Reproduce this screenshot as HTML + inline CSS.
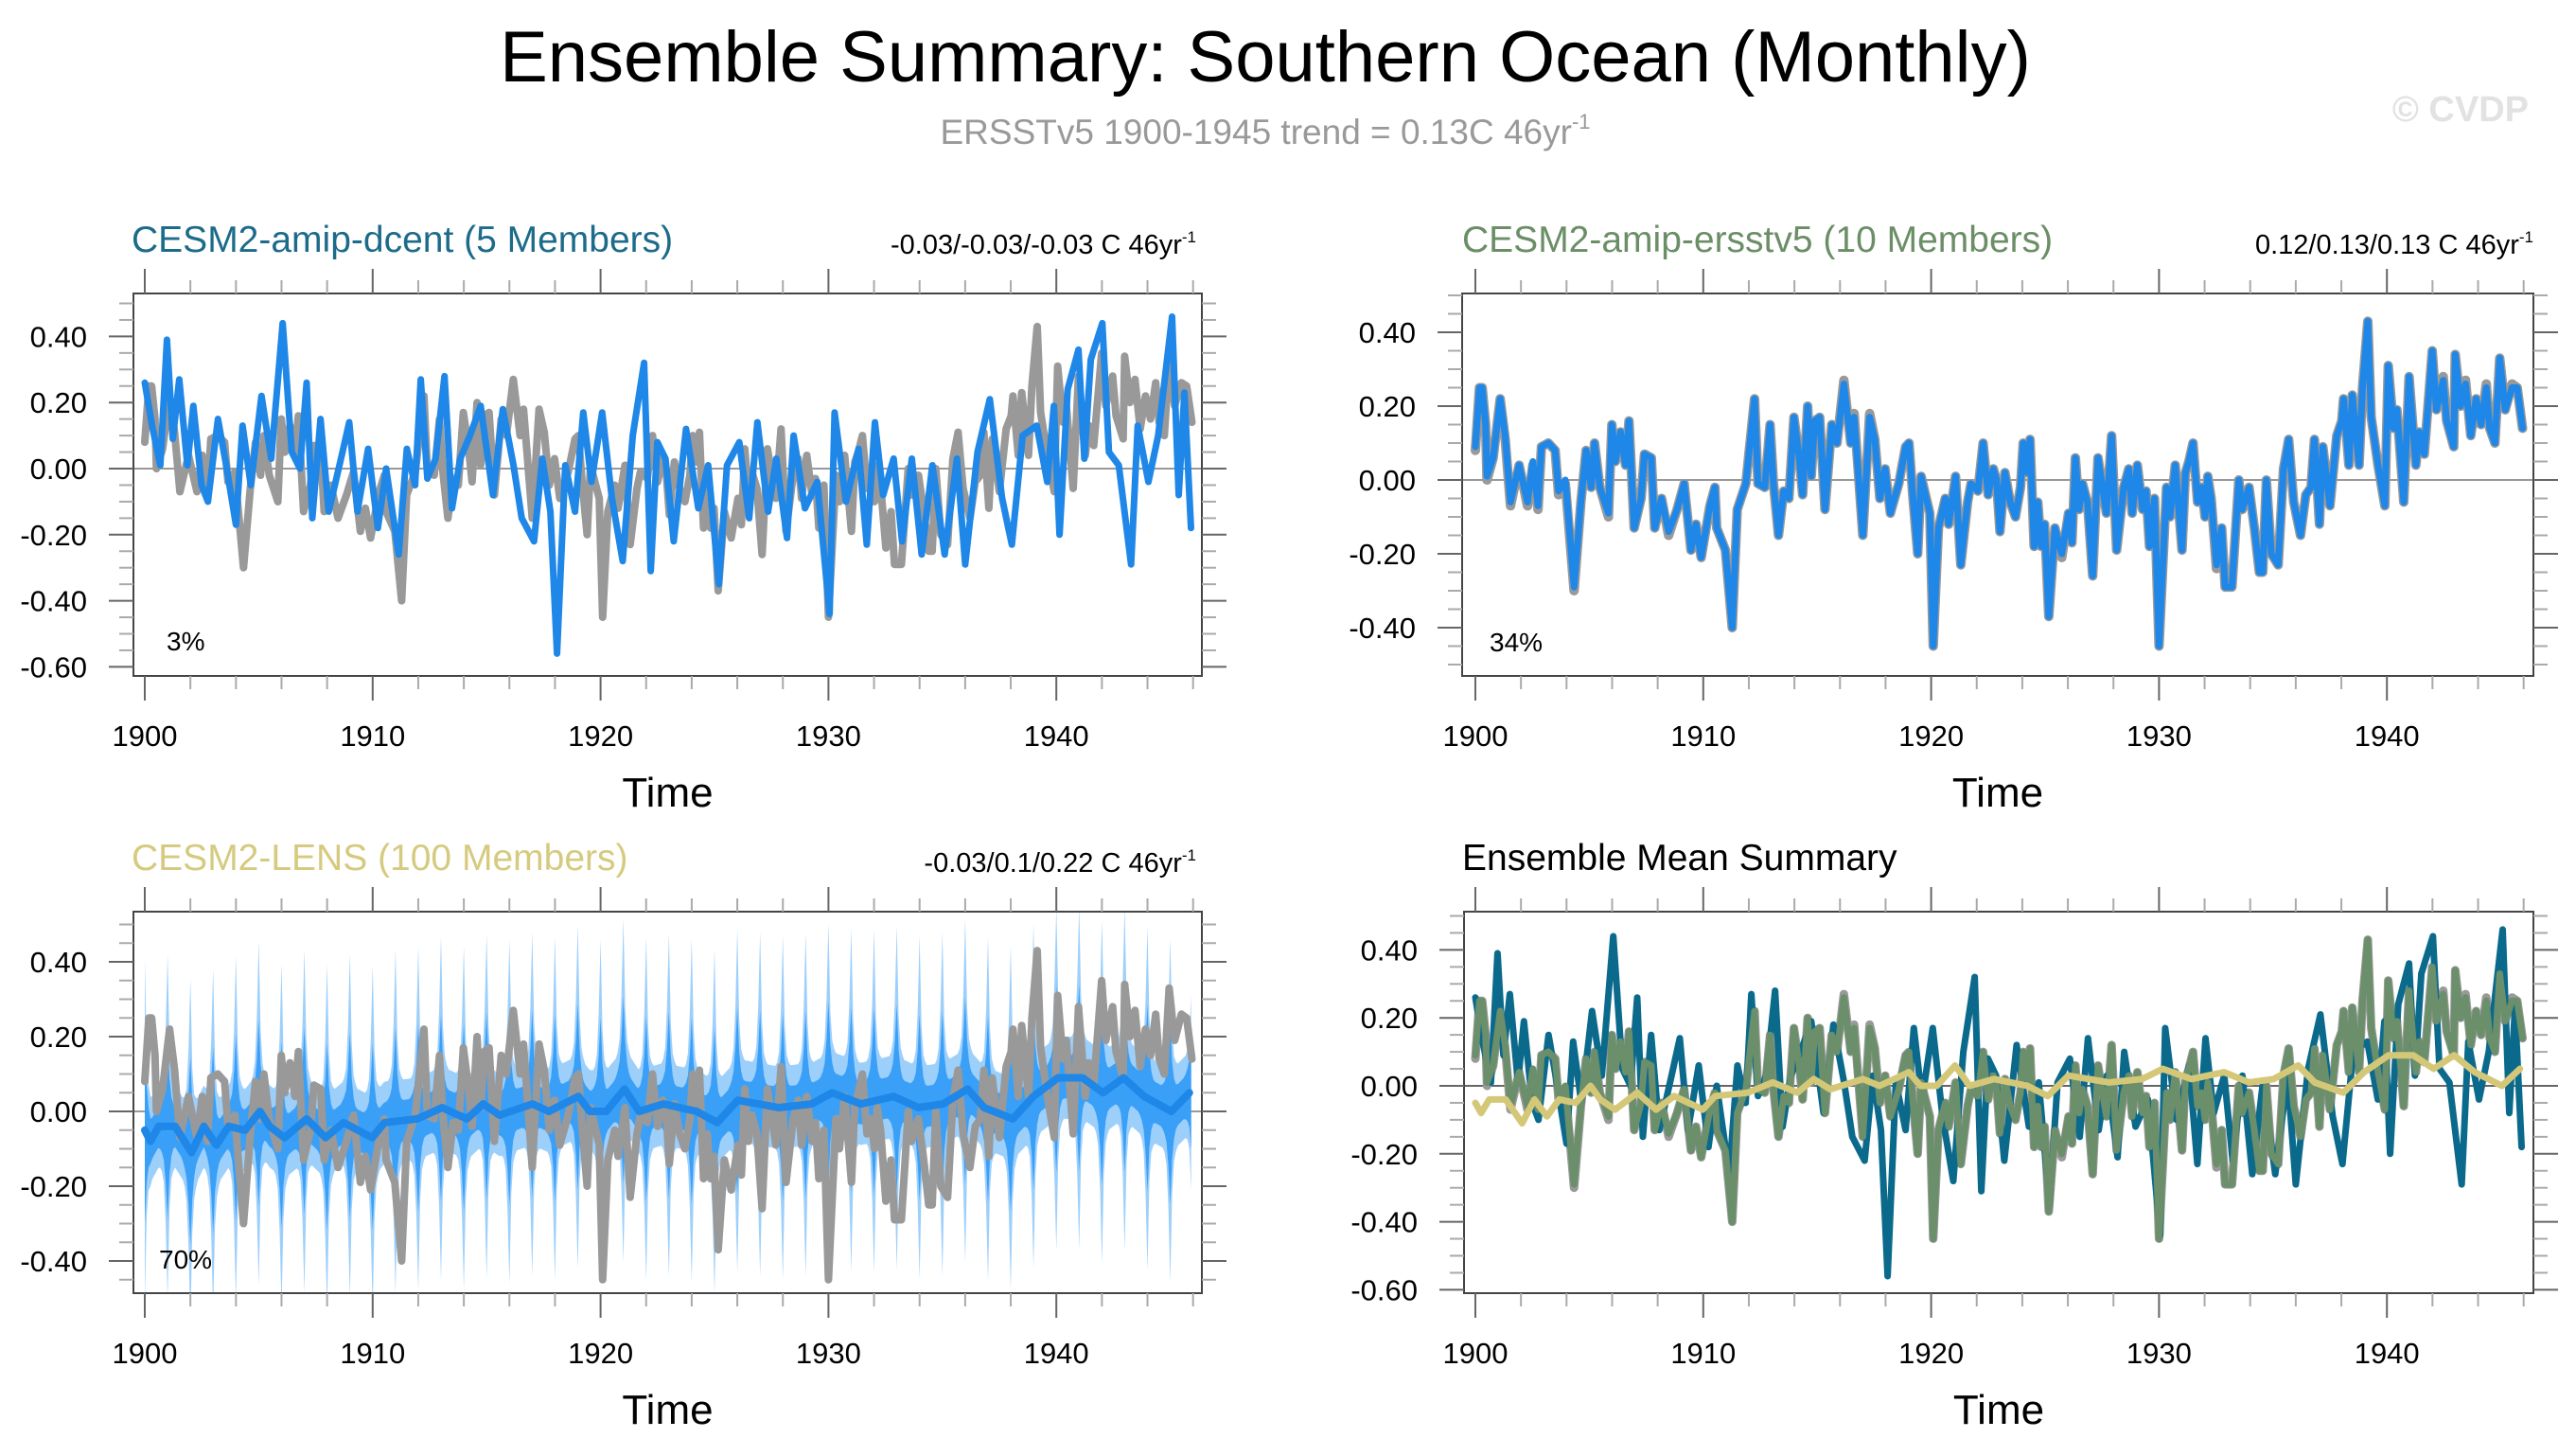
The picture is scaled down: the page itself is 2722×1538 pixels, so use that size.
<!DOCTYPE html>
<html><head><meta charset="utf-8"><style>
html,body{margin:0;padding:0;background:#fff;}
svg{display:block;font-family:"Liberation Sans",Arial,sans-serif;}
</style></head><body>
<svg id="chart" width="2722" height="1538" viewBox="0 0 2722 1538">
<text x="1337" y="86" font-size="76" text-anchor="middle" fill="#000">Ensemble Summary: Southern Ocean (Monthly)</text>
<text x="1337" y="152" font-size="37" text-anchor="middle" fill="#999">ERSSTv5 1900-1945 trend = 0.13C 46yr<tspan font-size="22" dy="-16">-1</tspan></text>
<text x="2672" y="128" font-size="38" font-weight="bold" text-anchor="end" fill="#e2e2e2">© CVDP</text>

<text x="139" y="266" font-size="39" fill="#1C6B8A">CESM2-amip-dcent (5 Members)</text>
<text x="1264" y="268" font-size="29" text-anchor="end" fill="#000">-0.03/-0.03/-0.03 C 46yr<tspan font-size="17" dy="-12">-1</tspan></text>
<text x="1545" y="266" font-size="39" fill="#6B8E67">CESM2-amip-ersstv5 (10 Members)</text>
<text x="2677" y="268" font-size="29" text-anchor="end" fill="#000">0.12/0.13/0.13 C 46yr<tspan font-size="17" dy="-12">-1</tspan></text>
<text x="139" y="919" font-size="39" fill="#D6CA7F">CESM2-LENS (100 Members)</text>
<text x="1264" y="921" font-size="29" text-anchor="end" fill="#000">-0.03/0.1/0.22 C 46yr<tspan font-size="17" dy="-12">-1</tspan></text>
<text x="1545" y="919" font-size="39" fill="#000">Ensemble Mean Summary</text>
<g id="plots"></g>
</svg>
<script>
const obsYears=[1900.00,1900.18,1900.30,1900.45,1900.51,1900.78,1901.09,1901.31,1901.54,1901.92,1902.29,1902.52,1902.75,1902.90,1903.20,1903.50,1903.65,1903.95,1904.33,1904.63,1904.86,1905.08,1905.23,1905.46,1905.84,1905.99,1906.14,1906.37,1906.59,1906.74,1906.97,1907.27,1907.42,1907.72,1907.87,1908.17,1908.48,1908.85,1909.16,1909.46,1909.68,1909.91,1910.29,1910.51,1910.59,1910.97,1911.27,1911.49,1911.87,1912.25,1912.40,1912.70,1912.93,1913.08,1913.30,1913.53,1913.76,1913.98,1914.21,1914.36,1914.58,1914.74,1914.89,1915.11,1915.34,1915.64,1915.87,1916.17,1916.47,1916.62,1917.00,1917.30,1917.53,1917.75,1917.98,1918.21,1918.58,1918.88,1919.03,1919.19,1919.41,1919.56,1919.79,1919.94,1920.09,1920.32,1920.62,1920.77,1921.07,1921.30,1921.60,1921.75,1922.05,1922.28,1922.50,1922.73,1922.87,1923.02,1923.24,1923.47,1923.70,1923.92,1924.04,1924.22,1924.34,1924.52,1924.68,1924.83,1924.98,1925.16,1925.43,1925.73,1926.03,1926.18,1926.33,1926.49,1926.64,1926.86,1927.09,1927.32,1927.69,1927.92,1928.14,1928.45,1928.67,1928.82,1929.05,1929.28,1929.43,1929.58,1929.80,1930.00,1930.33,1930.48,1930.71,1931.01,1931.16,1931.31,1931.49,1931.69,1931.87,1932.02,1932.14,1932.29,1932.52,1932.75,1932.90,1933.20,1933.50,1933.65,1933.95,1934.18,1934.40,1934.55,1934.71,1934.93,1935.23,1935.46,1935.69,1935.91,1936.21,1936.44,1936.67,1936.82,1937.04,1937.19,1937.50,1937.80,1938.02,1938.10,1938.33,1938.48,1938.78,1938.93,1939.16,1939.31,1939.61,1939.91,1940.06,1940.29,1940.44,1940.74,1940.97,1941.27,1941.42,1941.64,1941.99,1942.17,1942.47,1942.62,1942.93,1943.00,1943.23,1943.45,1943.68,1943.91,1944.13,1944.36,1944.51,1944.74,1944.95,1945.19,1945.49,1945.72,1945.95];
const obsVals=[0.08,0.25,0.25,0.15,0.00,0.06,0.22,0.11,-0.07,0.04,-0.07,0.04,-0.08,0.09,0.10,0.08,-0.04,-0.01,-0.30,-0.06,0.08,-0.02,0.10,-0.02,-0.10,0.15,0.05,0.13,0.04,0.16,-0.13,-0.05,0.07,0.06,-0.13,-0.05,-0.15,-0.08,-0.01,-0.19,-0.12,-0.21,-0.07,-0.02,-0.13,-0.19,-0.40,-0.08,-0.01,0.22,-0.01,-0.02,0.15,-0.01,-0.15,-0.03,-0.05,0.17,0.06,-0.04,0.20,0.01,0.16,0.17,-0.08,0.15,0.10,0.27,0.10,0.18,-0.15,0.18,0.11,-0.05,0.03,-0.09,-0.01,0.09,0.10,-0.04,-0.20,0.01,-0.05,-0.09,-0.45,-0.13,-0.05,-0.12,0.01,-0.23,-0.06,-0.01,-0.03,0.10,-0.04,0.03,0.00,-0.14,0.02,-0.06,-0.10,-0.02,0.10,0.02,0.11,-0.18,-0.06,-0.18,-0.12,-0.37,-0.13,-0.21,-0.09,-0.17,0.06,-0.08,-0.01,-0.06,-0.26,0.06,-0.09,0.12,-0.19,-0.02,0.03,-0.09,0.04,-0.08,-0.03,-0.18,-0.05,-0.45,-0.02,-0.10,0.04,-0.19,0.02,0.05,0.10,-0.06,-0.02,-0.10,0.01,-0.05,-0.24,-0.13,-0.29,-0.29,0.00,-0.08,-0.02,-0.13,-0.25,-0.25,0.00,-0.20,-0.23,0.03,0.11,-0.06,-0.15,-0.04,-0.02,0.11,-0.12,0.09,-0.07,0.12,0.16,0.22,0.04,0.23,0.04,0.25,0.43,0.17,0.04,-0.07,0.31,0.14,0.19,-0.06,0.28,0.04,0.13,0.07,0.35,0.19,0.28,0.16,0.09,0.34,0.20,0.27,0.12,0.22,0.15,0.26,0.14,0.10,0.33,0.19,0.26,0.25,0.14];
const ersstYears=obsYears.slice();
const ersstVals=[0.09,0.25,0.25,0.15,0.01,0.06,0.22,0.12,-0.06,0.04,-0.06,0.05,-0.07,0.09,0.10,0.08,-0.03,0.00,-0.29,-0.06,0.08,-0.02,0.10,-0.02,-0.09,0.15,0.05,0.13,0.04,0.16,-0.13,-0.05,0.07,0.06,-0.13,-0.05,-0.14,-0.08,-0.01,-0.19,-0.12,-0.21,-0.07,-0.02,-0.13,-0.19,-0.40,-0.08,-0.01,0.22,-0.01,-0.02,0.15,-0.01,-0.15,-0.03,-0.05,0.17,0.06,-0.04,0.20,0.01,0.16,0.17,-0.08,0.15,0.10,0.26,0.10,0.17,-0.15,0.17,0.11,-0.05,0.03,-0.09,-0.01,0.09,0.10,-0.04,-0.20,0.01,-0.05,-0.09,-0.45,-0.13,-0.05,-0.12,0.01,-0.23,-0.06,-0.01,-0.03,0.10,-0.04,0.03,0.00,-0.14,0.02,-0.06,-0.10,-0.02,0.10,0.02,0.11,-0.18,-0.06,-0.18,-0.12,-0.37,-0.13,-0.20,-0.09,-0.17,0.06,-0.08,-0.01,-0.06,-0.26,0.06,-0.09,0.12,-0.19,-0.02,0.03,-0.09,0.04,-0.08,-0.03,-0.18,-0.05,-0.45,-0.02,-0.10,0.04,-0.19,0.02,0.05,0.10,-0.06,-0.02,-0.10,0.01,-0.05,-0.23,-0.13,-0.29,-0.29,0.00,-0.08,-0.02,-0.13,-0.25,-0.25,0.00,-0.20,-0.23,0.03,0.11,-0.06,-0.15,-0.04,-0.02,0.11,-0.12,0.09,-0.07,0.12,0.16,0.22,0.04,0.23,0.04,0.25,0.43,0.17,0.04,-0.07,0.31,0.14,0.19,-0.06,0.28,0.04,0.13,0.07,0.35,0.19,0.27,0.16,0.09,0.34,0.20,0.26,0.12,0.22,0.15,0.25,0.14,0.10,0.33,0.19,0.25,0.25,0.14];
const dcentYears=[1900.00,1900.32,1900.68,1900.97,1901.23,1901.51,1901.87,1902.13,1902.49,1902.77,1903.21,1903.57,1904.00,1904.29,1904.65,1905.12,1905.55,1906.05,1906.45,1906.81,1907.10,1907.35,1907.71,1908.07,1908.61,1908.97,1909.33,1909.80,1910.23,1910.59,1911.14,1911.50,1911.86,1912.11,1912.40,1912.76,1913.15,1913.48,1913.84,1914.27,1914.74,1915.28,1915.71,1916.18,1916.54,1917.08,1917.44,1917.80,1918.09,1918.45,1918.88,1919.24,1919.60,1920.07,1920.50,1920.97,1921.41,1921.91,1922.20,1922.49,1922.85,1923.21,1923.75,1924.29,1924.72,1925.19,1925.55,1926.09,1926.52,1926.88,1927.35,1927.71,1928.18,1928.47,1928.97,1929.51,1930.05,1930.27,1930.77,1931.32,1931.68,1932.04,1932.40,1932.86,1933.23,1933.66,1934.09,1934.56,1935.10,1935.64,1936.00,1936.54,1937.08,1937.62,1938.05,1938.52,1939.14,1939.60,1939.89,1940.14,1940.50,1940.97,1941.23,1941.51,1942.02,1942.31,1942.74,1943.28,1943.57,1944.04,1944.47,1945.08,1945.37,1945.62,1945.91];
const dcentVals=[0.26,0.13,0.01,0.39,0.09,0.27,0.01,0.19,-0.05,-0.10,0.15,0.01,-0.17,0.13,-0.05,0.22,0.03,0.44,0.05,0.00,0.26,-0.15,0.15,-0.13,0.03,0.14,-0.13,0.06,-0.18,0.00,-0.26,0.06,-0.05,0.27,-0.03,0.03,0.28,-0.12,0.03,0.10,0.19,-0.08,0.18,0.01,-0.15,-0.22,0.03,-0.13,-0.56,0.01,-0.13,0.17,-0.04,0.17,-0.09,-0.28,0.10,0.32,-0.31,0.08,0.03,-0.22,0.12,-0.12,0.01,-0.35,0.01,0.08,-0.15,0.14,-0.13,0.03,-0.21,0.10,-0.12,-0.04,-0.44,0.17,-0.10,0.06,-0.23,0.14,-0.08,0.03,-0.22,0.03,-0.26,0.01,-0.26,0.03,-0.29,0.05,0.21,-0.09,-0.23,0.10,0.13,-0.04,0.19,-0.20,0.24,0.36,0.03,0.33,0.44,0.05,0.01,-0.29,0.13,-0.04,0.10,0.46,-0.08,0.23,-0.18];
const lensYears=[1900.00,1900.25,1900.61,1901.33,1902.05,1902.59,1903.14,1903.68,1904.40,1905.05,1905.48,1906.13,1907.10,1907.93,1908.72,1909.98,1910.52,1911.96,1913.05,1914.13,1914.85,1915.57,1917.01,1917.73,1919.03,1919.53,1920.25,1921.05,1921.69,1922.77,1924.22,1925.12,1926.02,1927.82,1929.26,1930.16,1931.42,1932.86,1933.95,1935.03,1936.11,1936.83,1938.09,1938.99,1940.07,1941.15,1942.05,1942.95,1943.86,1945.05,1945.84];
const lensVals=[-0.05,-0.08,-0.04,-0.04,-0.11,-0.04,-0.09,-0.04,-0.05,0.00,-0.04,-0.07,-0.02,-0.07,-0.03,-0.07,-0.03,-0.02,0.01,-0.02,0.02,-0.01,0.02,0.00,0.04,0.00,0.00,0.06,0.00,0.02,0.00,-0.03,0.03,0.01,0.02,0.05,0.02,0.04,0.01,0.02,0.06,0.01,-0.02,0.04,0.09,0.09,0.05,0.09,0.04,0.00,0.05];
const lensOuterSpread=[0.46,0.22,0.14,0.12,0.11,0.11,0.11,0.11,0.11,0.12,0.15,0.26];
const lensInnerSpread=[0.25,0.13,0.08,0.06,0.055,0.055,0.055,0.055,0.06,0.07,0.09,0.15];
const xTickYears=[1900,1910,1920,1930,1940];
const yTicksA=[0.4,0.2,0,-0.2,-0.4,-0.6];
const yTicksB=[0.4,0.2,0,-0.2,-0.4];

const NS='http://www.w3.org/2000/svg';
const root=document.getElementById('plots');
function mk(tag,attrs,parent){const e=document.createElementNS(NS,tag);for(const k in attrs)e.setAttribute(k,attrs[k]);(parent||root).appendChild(e);return e;}
function interp(ys,vs,t){if(t<=ys[0])return vs[0];for(let i=1;i<ys.length;i++){if(t<=ys[i]){const f=(t-ys[i-1])/(ys[i]-ys[i-1]);return vs[i-1]+f*(vs[i]-vs[i-1]);}}return vs[vs.length-1];}

const panels=[
 {id:'dcent',L:141,R:1270,T:310,B:714,x0:153,zero:495,k:349,ticks:yTicksA,pct:'3%',px:176,py:687},
 {id:'ersst',L:1545,R:2677,T:310,B:714,x0:1559,zero:507,k:390,ticks:yTicksB,pct:'34%',px:1574,py:688},
 {id:'lens',L:141,R:1270,T:963,B:1366,x0:153,zero:1174,k:395,ticks:yTicksB,pct:'70%',px:168,py:1340},
 {id:'mean',L:1547,R:2677,T:963,B:1366,x0:1559,zero:1147,k:359,ticks:yTicksA,pct:null}
];
const PXY=24.08;

panels.forEach(p=>{
 const g=mk('g',{});
 
 
 const X=t=>p.x0+(t-1900)*PXY, Y=v=>p.zero-v*p.k;
 const cp=mk('clipPath',{id:'clip-'+p.id},g);
 mk('rect',{x:p.L,y:p.T,width:p.R-p.L,height:p.B-p.T},cp);
 const plot=mk('g',{'clip-path':'url(#clip-'+p.id+')'},g);
 
 
 const zl=mk('line',{x1:p.L,x2:p.R,y1:Y(0),y2:Y(0),stroke:p.id==='mean'?'#666':'#999','stroke-width':2},plot);
 
 
 function line(ys,vs,color,w,name){let d='';ys.forEach((t,i)=>{d+=(i?'L':'M')+X(t).toFixed(1)+' '+Y(vs[i]).toFixed(1);});const e=mk('path',{d:d,fill:'none',stroke:color,'stroke-width':w,'stroke-linejoin':'round','stroke-linecap':'round'},plot);
  
  }
 function band(spread,color,name){let up=[],lo=[];for(let m=0;m<552;m++){const t=1900+m/12;const c=interp(lensYears,lensVals,t);const w=spread[m%12];up.push(X(t).toFixed(1)+' '+Y(c+w).toFixed(1));lo.push(X(t).toFixed(1)+' '+Y(c-w).toFixed(1));}
  const e=mk('path',{d:'M'+up.join('L')+'L'+lo.reverse().join('L')+'Z',fill:color,stroke:'none'},plot);
  
  }
 if(p.id==='dcent'){line(obsYears,obsVals,'#999',8,'ersstv5-observed-line');line(dcentYears,dcentVals,'#1E87E8',7,'dcent-ensemble-mean-line');}
 if(p.id==='ersst'){line(obsYears,obsVals,'#999',10,'ersstv5-observed-line');line(ersstYears,ersstVals,'#1E87E8',7,'ersst-ensemble-mean-line');}
 if(p.id==='lens'){band(lensOuterSpread,'#9DCFFB','lens-outer-spread-band');band(lensInnerSpread,'#3AA0F7','lens-inner-spread-band');line(obsYears,obsVals,'#999',8,'ersstv5-observed-line');line(lensYears,lensVals,'#1E87E8',8,'lens-ensemble-mean-line');}
 if(p.id==='mean'){line(obsYears,obsVals,'#999',9,'ersstv5-observed-line');line(dcentYears,dcentVals,'#0B6A8C',7,'dcent-mean-line');line(ersstYears,ersstVals,'#6A8F6A',7,'ersst-mean-line');line(lensYears,lensVals,'#D4C878',7,'lens-mean-line');}
 const box=mk('rect',{x:p.L,y:p.T,width:p.R-p.L,height:p.B-p.T,fill:'none',stroke:'#444','stroke-width':2},g);
 
 
 const vTop=(p.zero-p.T)/p.k, vBot=(p.zero-p.B)/p.k;
 for(let v=Math.ceil(vBot*20)/20;v<=vTop+1e-9;v+=0.05){const maj=Math.abs(Math.round(v*100)%20)<1;const len=maj?26:15;const y=Y(v);
  mk('line',{x1:p.L-len,x2:p.L,y1:y,y2:y,stroke:maj?'#666':'#aaa','stroke-width':2},g);
  mk('line',{x1:p.R,x2:p.R+len,y1:y,y2:y,stroke:maj?'#666':'#aaa','stroke-width':2},g);}
 p.ticks.forEach(v=>{const t=mk('text',{x:p.L-49,y:Y(v)+11,'font-size':31,'text-anchor':'end',fill:'#000'},g);t.textContent=v.toFixed(2);
  
  });
 for(let yr=1900;yr<=1946;yr+=2){const maj=yr%10===0;const len=maj?26:14;const x=X(yr);if(x>p.R)continue;
  mk('line',{x1:x,x2:x,y1:p.T-len,y2:p.T,stroke:maj?'#666':'#aaa','stroke-width':2},g);
  mk('line',{x1:x,x2:x,y1:p.B,y2:p.B+len,stroke:maj?'#666':'#aaa','stroke-width':2},g);}
 xTickYears.forEach(yr=>{const t=mk('text',{x:X(yr),y:p.B+74,'font-size':31,'text-anchor':'middle',fill:'#000'},g);t.textContent=yr;
  
  });
 const xt=mk('text',{x:(p.L+p.R)/2,y:p.B+138,'font-size':44,'text-anchor':'middle',fill:'#000'},g);xt.textContent='Time';
 
 
 if(p.pct){const pt=mk('text',{x:p.px,y:p.py,'font-size':28,fill:'#000'},g);pt.textContent=p.pct;
  
  }
});
</script>
</body></html>
